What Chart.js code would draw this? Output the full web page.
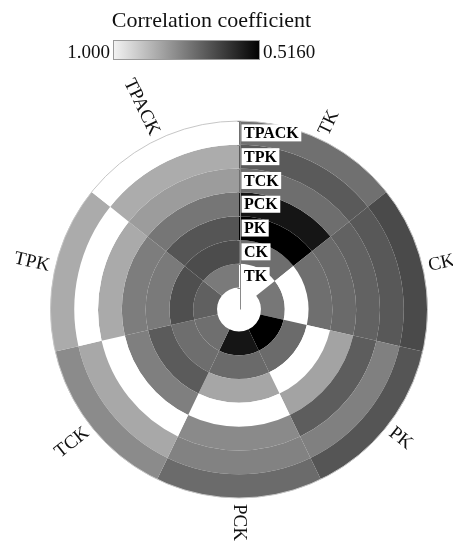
<!DOCTYPE html>
<html><head><meta charset="utf-8">
<script src="https://cdn.jsdelivr.net/npm/chart.js@4.4.1/dist/chart.umd.min.js"></script>
<style>html,body{margin:0;padding:0;background:#fff;}#wrap{width:453px;height:545px;}</style>
</head><body><div id="wrap"><canvas id="c" width="453" height="545"></canvas></div>
<script>
// sectors, clockwise from the top
const categories = ['TK', 'CK', 'PK', 'PCK', 'TCK', 'TPK', 'TPACK'];
// rings, outer -> inner
const ringOrder = ['TPACK', 'TPK', 'TCK', 'PCK', 'PK', 'CK', 'TK'];
// correlation of each ring variable with each sector variable (sector order as categories)
const corrTK    = [1.000, 0.742, 0.516, 0.556, 0.727, 0.698, 0.748];
const corrCK    = [0.725, 1.000, 0.719, 0.717, 0.725, 0.666, 0.660];
const corrPK    = [0.516, 0.727, 1.000, 0.831, 0.689, 0.748, 0.677];
const corrPCK   = [0.556, 0.717, 0.825, 1.000, 0.757, 0.753, 0.740];
const corrTCK   = [0.725, 0.702, 0.693, 0.778, 1.000, 0.839, 0.812];
const corrTPK   = [0.687, 0.683, 0.759, 0.763, 0.835, 1.000, 0.842];
const corrTPACK = [0.729, 0.656, 0.677, 0.719, 0.780, 0.841, 1.000];
const scaleMax = 1.000, scaleMin = 0.516;
const scaleTickLabels = ['1.000', '0.5160'];
const legendTitle = 'Correlation coefficient';

const ringValues = {TK: corrTK, CK: corrCK, PK: corrPK, PCK: corrPCK, TCK: corrTCK, TPK: corrTPK, TPACK: corrTPACK};

function grayFor(v) {
  let t = (v - scaleMin) / (scaleMax - scaleMin);
  t = Math.max(0, Math.min(1, t));
  const g = Math.round(255 * t);
  return 'rgb(' + g + ',' + g + ',' + g + ')';
}

const datasets = ringOrder.map(name => ({
  label: name,
  data: categories.map(() => 1),
  backgroundColor: ringValues[name].map(grayFor),
  borderWidth: 0,
  hoverOffset: 0
}));

const SERIF = '"Liberation Serif", "DejaVu Serif", serif';

const deco = {
  id: 'deco',
  afterDatasetsDraw(chart) {
    const ctx = chart.ctx;
    const outerArc = chart.getDatasetMeta(0).data[0];
    const cx = outerArc.x, cy = outerArc.y, R = outerArc.outerRadius;
    ctx.save();
    // thin outer outline
    ctx.strokeStyle = '#c6c6c6';
    ctx.lineWidth = 1;
    ctx.beginPath(); ctx.arc(cx, cy, R, 0, Math.PI * 2); ctx.stroke();

    // radial axis line with ticks
    const ax = Math.round(cx) + 1.5;
    ctx.strokeStyle = '#8a8a8a';
    ctx.beginPath(); ctx.moveTo(ax, cy - R); ctx.lineTo(ax, cy); ctx.stroke();
    for (let d = 0; d < ringOrder.length; d++) {
      const a = chart.getDatasetMeta(d).data[0];
      [a.outerRadius, a.innerRadius].forEach(r => {
        const y = Math.round(cy - r) + 0.5;
        ctx.beginPath(); ctx.moveTo(ax - 3, y); ctx.lineTo(ax, y); ctx.stroke();
      });
    }

    // ring labels in white boxes
    ctx.font = 'bold 16px ' + SERIF;
    ctx.textBaseline = 'middle';
    ctx.textAlign = 'left';
    for (let d = 0; d < ringOrder.length; d++) {
      const a = chart.getDatasetMeta(d).data[0];
      const rm = (a.outerRadius + a.innerRadius) / 2;
      const y = cy - rm;
      const w = ctx.measureText(ringOrder[d]).width;
      ctx.fillStyle = '#fff';
      ctx.fillRect(ax + 1, y - 8.5, w + 5, 17);
      ctx.fillStyle = '#000';
      ctx.fillText(ringOrder[d], ax + 3.5, y + 1);
    }

    // sector labels, radial
    ctx.font = '19px ' + SERIF;
    ctx.fillStyle = '#111';
    const n = categories.length;
    const meta0 = chart.getDatasetMeta(0).data;
    for (let i = 0; i < n; i++) {
      const arc = meta0[i];
      const phi = (arc.startAngle + arc.endAngle) / 2; // canvas angle
      const rr = R + 6;
      ctx.save();
      ctx.translate(cx + rr * Math.cos(phi), cy + rr * Math.sin(phi));
      const theta = phi + Math.PI / 2; // from top, clockwise
      if (theta <= Math.PI + 1e-6) {
        ctx.rotate(phi);
        ctx.textAlign = 'left';
      } else {
        ctx.rotate(phi + Math.PI);
        ctx.textAlign = 'right';
      }
      ctx.textBaseline = 'middle';
      ctx.fillText(categories[i], 0, 0);
      ctx.restore();
    }

    // colour bar legend
    const bx = 113, by = 40, bw = 147, bh = 20;
    const grad = ctx.createLinearGradient(bx, 0, bx + bw, 0);
    grad.addColorStop(0, '#f4f4f4');
    grad.addColorStop(1, grayFor(scaleMin));
    ctx.fillStyle = grad;
    ctx.fillRect(bx, by, bw, bh);
    ctx.strokeStyle = '#9a9a9a';
    ctx.lineWidth = 1;
    ctx.strokeRect(bx + 0.5, by + 0.5, bw - 1, bh - 1);

    ctx.fillStyle = '#111';
    ctx.font = '19px ' + SERIF;
    ctx.textBaseline = 'alphabetic';
    ctx.textAlign = 'right';
    ctx.fillText(scaleTickLabels[0], bx - 3, 58);
    ctx.textAlign = 'left';
    ctx.fillText(scaleTickLabels[1], bx + bw + 3, 58);

    ctx.font = '22px ' + SERIF;
    ctx.textAlign = 'center';
    ctx.fillText(legendTitle, 211.5, 27);
    ctx.restore();
  }
};

new Chart(document.getElementById('c'), {
  type: 'doughnut',
  data: { labels: categories, datasets: datasets },
  options: {
    responsive: false,
    animation: false,
    cutout: 22,
    rotation: 0,
    circumference: 360,
    layout: { padding: { left: 50.5, right: 25.5, top: 121, bottom: 47 } },
    plugins: { legend: { display: false }, tooltip: { enabled: false }, title: { display: false } },
    elements: { arc: { borderWidth: 0 } }
  },
  plugins: [deco]
});
</script>
</body></html>
